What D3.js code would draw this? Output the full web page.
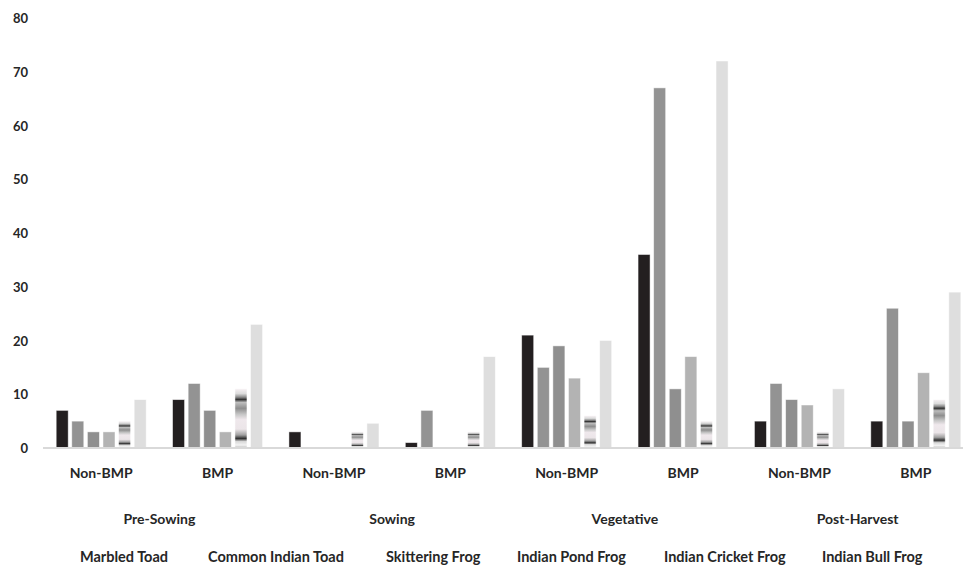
<!DOCTYPE html>
<html>
<head>
<meta charset="utf-8">
<script src="https://cdn.jsdelivr.net/npm/d3@7"></script>
<style>
  html, body { margin: 0; padding: 0; background: #fff; }
  text { font-family: Lato, "Liberation Sans", sans-serif; font-weight: bold; fill: #262626; }
</style>
</head>
<body>
<svg id="chart" width="963" height="568"></svg>
<script>
// Amphibian counts by crop stage and management practice
const stages = ["Pre-Sowing", "Sowing", "Vegetative", "Post-Harvest"];
const practices = ["Non-BMP", "BMP"];
const species = ["Marbled Toad", "Common Indian Toad", "Skittering Frog",
                 "Indian Pond Frog", "Indian Cricket Frog", "Indian Bull Frog"];
const yTicks = [0, 10, 20, 30, 40, 50, 60, 70, 80];

// one array per species, in order: Pre-Sowing (Non-BMP, BMP), Sowing, Vegetative, Post-Harvest
const marbledToad       = [7, 9, 3, 1, 21, 36, 5, 5];
const commonIndianToad  = [5, 12, 0, 7, 15, 67, 12, 26];
const skitteringFrog    = [3, 7, 0, 0, 19, 11, 9, 5];
const indianPondFrog    = [3, 3, 0, 0, 13, 17, 8, 14];
const indianCricketFrog = [5, 11, 3, 3, 6, 5, 3, 9];
const indianBullFrog    = [9, 23, 4.6, 17, 20, 72, 11, 29];

const seriesValues = [marbledToad, commonIndianToad, skitteringFrog,
                      indianPondFrog, indianCricketFrog, indianBullFrog];

const groups = [];
stages.forEach(s => practices.forEach(p => groups.push(s + "|" + p)));

const svg = d3.select("#chart");

// gradient fill used for the Indian Cricket Frog bars
const defs = svg.append("defs");
const grad = defs.append("linearGradient")
  .attr("id", "bandFill")
  .attr("x1", 0).attr("y1", 0).attr("x2", 0).attr("y2", 1);
[
  [0.00, "#f6f0f3"], [0.08, "#dcdcdc"], [0.14, "#8c8c8c"], [0.18, "#333333"],
  [0.23, "#bdbdbd"], [0.33, "#8e8e8e"], [0.43, "#c6c6c6"], [0.52, "#efe8ec"],
  [0.68, "#ebe5e8"], [0.78, "#a0a0a0"], [0.84, "#303030"], [0.89, "#d8d8d8"],
  [0.95, "#f3f3f3"], [1.00, "#bdbdbd"]
].forEach(([o, c]) => grad.append("stop").attr("offset", o).attr("stop-color", c));

const fills = ["#231f20", "#939393", "#8f8f8f", "#b3b3b3", "url(#bandFill)", "#dedede"];

const y = d3.scaleLinear().domain([0, 80]).range([448, 18]);
const x0 = d3.scaleBand().domain(groups).range([43, 974]).padding(0);
const x1 = d3.scaleBand().domain(d3.range(species.length))
  .range([0, x0.bandwidth()]).paddingInner(0.23).paddingOuter(0.845);

// y axis labels only (no line, no gridlines)
const yAxis = d3.axisLeft(y).tickValues(yTicks).tickSize(0).tickPadding(0);
const yg = svg.append("g").attr("transform", "translate(28,0)").call(yAxis);
yg.select(".domain").remove();
yg.selectAll("text").style("font-size", "13px").attr("dy", "0.35em");

// bars
const gGroups = svg.append("g").selectAll("g").data(groups).join("g")
  .attr("transform", d => `translate(${x0(d)},0)`);
gGroups.selectAll("rect")
  .data((d, gi) => seriesValues.map((vals, si) => ({ si, v: vals[gi] })))
  .join("rect")
  .attr("x", d => x1(d.si))
  .attr("width", x1.bandwidth())
  .attr("y", d => y(d.v))
  .attr("height", d => y(0) - y(d.v))
  .attr("fill", d => fills[d.si])
  .attr("stroke", "#ffffff")
  .attr("stroke-opacity", 0.6)
  .attr("stroke-width", 0.8);

// category axis line
svg.append("line")
  .attr("x1", x0.range()[0]).attr("x2", x0.range()[1])
  .attr("y1", y(0)).attr("y2", y(0))
  .attr("stroke", "#d9d9d9").attr("stroke-width", 2);

// practice labels
svg.append("g").selectAll("text").data(groups).join("text")
  .attr("x", d => x0(d) + x0.bandwidth() / 2)
  .attr("y", 473).attr("dy", "0.35em")
  .attr("text-anchor", "middle")
  .style("font-size", "14px")
  .text(d => d.split("|")[1]);

// stage labels
svg.append("g").selectAll("text").data(stages).join("text")
  .attr("x", s => x0(s + "|Non-BMP") + x0.bandwidth())
  .attr("y", 519).attr("dy", "0.35em")
  .attr("text-anchor", "middle")
  .style("font-size", "14px")
  .text(s => s);

// legend row
const legendX = [80, 208, 386, 517, 664, 822];
svg.append("g").selectAll("text").data(species).join("text")
  .attr("x", (d, i) => legendX[i])
  .attr("y", 557).attr("dy", "0.35em")
  .style("font-size", "14.5px")
  .text(d => d);
</script>
</body>
</html>
